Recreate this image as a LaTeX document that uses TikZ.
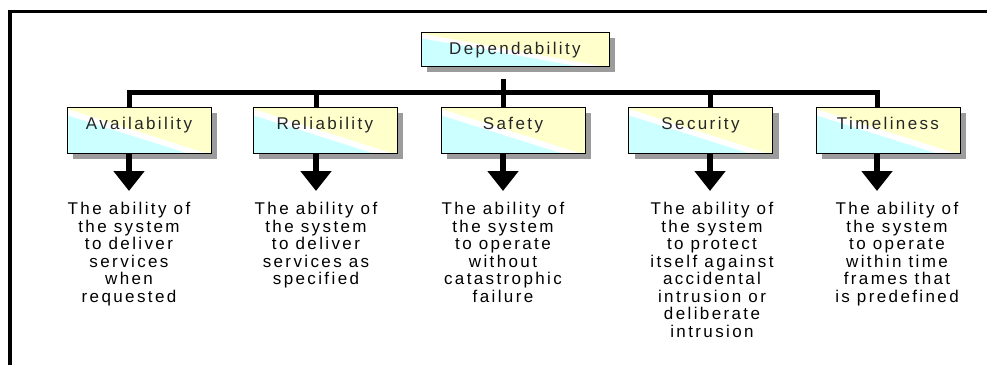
\documentclass[tikz,border=0pt]{standalone}
\usepackage{fontspec}
\usetikzlibrary{arrows.meta,shadows,calc}
\newfontfamily\diagfont[LetterSpace=14]{Liberation Sans}
\definecolor{boxcyan}{HTML}{CCFFFF}
\definecolor{boxyellow}{HTML}{FFFFCC}
\definecolor{shadowgray}{HTML}{9C9C9C}
\tikzset{
  panel/.style={draw=black,line width=1pt,fill=boxyellow,inner sep=0pt,
    minimum width=144pt,minimum height=46pt,
    font=\diagfont\fontsize{17}{17.5}\selectfont,text=black!85,
    text height=12pt,text depth=14pt,
    drop shadow={shadow xshift=6pt,shadow yshift=-5pt,fill=shadowgray,opacity=1},
    path picture={
      \fill[white] ($(path picture bounding box.north west)!0.03!(path picture bounding box.south west)$)
        -- ($(path picture bounding box.south west)!0.97!(path picture bounding box.south east)$)
        -- (path picture bounding box.south west) -- cycle;
      \fill[boxcyan] ($(path picture bounding box.north west)!0.17!(path picture bounding box.south west)$)
        -- ($(path picture bounding box.south west)!0.84!(path picture bounding box.south east)$)
        -- (path picture bounding box.south west) -- cycle;
    }},
  desc/.style={align=center,anchor=north,inner sep=0pt,
    font=\diagfont\fontsize{17}{17.5}\selectfont},
  bus/.style={line width=5pt,miter limit=10},
  arrow/.style={line width=6pt,-{Triangle[width=30pt,length=20pt]}}
}
\begin{document}
\begin{tikzpicture}[x=1pt,y=-1pt]
  \useasboundingbox (0,0) rectangle (987,365);
  % frame
  \draw[line width=2.5pt] (8,11.5) -- (987,11.5);
  \draw[line width=4pt] (10,10.5) -- (10,365);

  \node[panel,minimum width=188pt,minimum height=34pt,text depth=3pt] (dep) at (515,49.5) {Dependability};

  \node[panel] (avail)  at (139,130.5)   {Availability};
  \node[panel] (relia)  at (325,130.5)   {Reliability};
  \node[panel] (safety) at (513,130.5)   {Safety};
  \node[panel] (secur)  at (700.5,130.5) {Security};
  \node[panel] (time)   at (888,130.5)   {Timeliness};

  \node[desc] (availtxt)  at (129,202) {The ability of\\the system\\to deliver\\services\\when\\requested};
  \node[desc] (reliatxt)  at (316,202) {The ability of\\the system\\to deliver\\services as\\specified};
  \node[desc] (safetytxt) at (503,202) {The ability of\\the system\\to operate\\without\\catastrophic\\failure};
  \node[desc] (securtxt)  at (712,202) {The ability of\\the system\\to protect\\itself against\\accidental\\intrusion or\\deliberate\\intrusion};
  \node[desc] (timetxt)   at (897,202) {The ability of\\the system\\to operate\\within time\\frames that\\is predefined};

  \coordinate (availtip)  at (129,191);
  \coordinate (reliatip)  at (316,191);
  \coordinate (safetytip) at (503,191);
  \coordinate (securtip)  at (710,191);
  \coordinate (timetip)   at (877,191);
  \coordinate (stemtop)   at (503,79);

  % bus
  \draw[bus] (avail.north -| availtip) -- ++(0,-15) -| (time.north -| timetip);
  \foreach \n in {relia,safety,secur}
    \draw[bus] (\n.north -| \n tip) -- ++(0,-15);
  \draw[bus] (stemtop) -- ++(0,13);

  \foreach \n in {avail,relia,safety,secur,time}
    \draw[arrow] (\n.south -| \n tip) -- (\n tip);

\end{tikzpicture}
\end{document}
